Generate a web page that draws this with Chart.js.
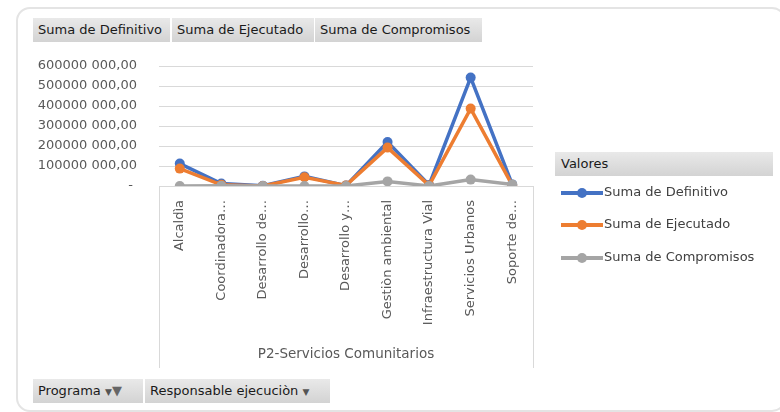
<!DOCTYPE html>
<html>
<head>
<meta charset="utf-8">
<script src="https://cdn.jsdelivr.net/npm/chart.js@4/dist/chart.umd.min.js"></script>
<style>
  html, body { margin: 0; padding: 0; background: #fff; }
  body { width: 780px; height: 412px; position: relative; overflow: hidden; font-family: "DejaVu Sans", sans-serif; }
  #panel { position: absolute; left: 16px; top: 7px; width: 766px; height: 401px; border: 2px solid #e4e4e4; border-radius: 14px; }
  #chart { position: absolute; left: 0; top: 0; }
  .btn { position: absolute; height: 24px; line-height: 24px; font-size: 13px; color: #1a1a1a; padding-left: 5px; box-sizing: border-box;
         background: linear-gradient(#e9e9e9, #d3d3d3); white-space: nowrap; }
  .legend-head { position: absolute; left: 555px; top: 152px; width: 218px; height: 24px; line-height: 24px; font-size: 13px; color: #1a1a1a;
                 padding-left: 6px; box-sizing: border-box; background: linear-gradient(#e9e9e9, #d3d3d3); }
  .legend-item { position: absolute; left: 561px; height: 20px; font-size: 13px; color: #404040; white-space: nowrap; }
  .legend-item .sw { position: absolute; left: 0; top: 8px; width: 42px; height: 4px; }
  .legend-item .dot { position: absolute; left: 16px; top: 5px; width: 10px; height: 10px; border-radius: 50%; }
  .legend-item .tx { position: absolute; left: 43px; top: 0; line-height: 18px; }
  .arrow { font-size: 9px; color: #555; }
</style>
</head>
<body>
<div id="panel"></div>
<canvas id="chart" width="780" height="412"></canvas>
<div id="fields"></div>
<div class="legend-head">Valores</div>
<div id="legend"></div>
<div class="btn" style="left:33px; top:379px; width:110px;">Programa <span class="arrow">▼</span><span style="color:#666;">▼</span></div>
<div class="btn" style="left:145px; top:379px; width:185px;">Responsable ejecuciòn <span class="arrow">▼</span></div>
<script>
const categories = ['Alcaldìa', 'Coordinadora…', 'Desarrollo de…', 'Desarrollo…', 'Desarrollo y…',
  'Gestiòn ambiental', 'Infraestructura Vial', 'Servicios Urbanos', 'Soporte de…'];
const seriesNames = ['Suma de Definitivo', 'Suma de Ejecutado', 'Suma de Compromisos'];
const definitivo = [112000000, 12000000, 1000000, 48000000, 2000000, 220000000, 5000000, 542000000, 8000000];
const ejecutado = [87000000, 6000000, 0, 44000000, 3000000, 192000000, 3000000, 387000000, 4000000];
const compromisos = [0, 1000000, 0, 0, 0, 23000000, 0, 32000000, 8000000];
const colors = ['#4472C4', '#ED7D31', '#A5A5A5'];
const axisTitle = 'P2-Servicios Comunitarios';

// field buttons on top
const fieldPos = [[33, 137], [172, 142], [315, 167]];
seriesNames.forEach((n, i) => {
  const d = document.createElement('div');
  d.className = 'btn';
  d.style.left = fieldPos[i][0] + 'px';
  d.style.top = '18px';
  d.style.width = fieldPos[i][1] + 'px';
  d.textContent = n;
  document.getElementById('fields').appendChild(d);
});

// legend
const legendTops = [183, 215, 248];
seriesNames.forEach((n, i) => {
  const d = document.createElement('div');
  d.className = 'legend-item';
  d.style.top = legendTops[i] + 'px';
  d.innerHTML = `<div class="sw" style="background:${colors[i]}"></div><div class="dot" style="background:${colors[i]}"></div><div class="tx">${n}</div>`;
  document.getElementById('legend').appendChild(d);
});

const fmt = v => {
  if (v === 0) return '- ';
  const s = String(v);
  return s.slice(0, -3) + ' ' + s.slice(-3) + ',00';
};

const boxLines = {
  id: 'boxLines',
  afterDraw(chart) {
    const { ctx, chartArea } = chart;
    ctx.save();
    ctx.strokeStyle = '#d9d9d9';
    ctx.lineWidth = 1;
    ctx.beginPath();
    [chartArea.left, chartArea.right].forEach(x => {
      ctx.moveTo(Math.round(x) + 0.5, chartArea.bottom);
      ctx.lineTo(Math.round(x) + 0.5, 368);
    });
    ctx.stroke();
    ctx.restore();
  }
};

const mk = (i, data, order) => ({
  label: seriesNames[i],
  data: data,
  borderColor: colors[i],
  backgroundColor: colors[i],
  borderWidth: 3.5,
  pointRadius: 5,
  pointHoverRadius: 5,
  pointBorderWidth: 0,
  tension: 0,
  order: order
});

new Chart(document.getElementById('chart'), {
  type: 'line',
  data: {
    labels: categories,
    datasets: [mk(0, definitivo, 3), mk(1, ejecutado, 2), mk(2, compromisos, 1)]
  },
  options: {
    responsive: false,
    animation: false,
    layout: { padding: { left: 0, right: 247, top: 66, bottom: 0 } },
    plugins: { legend: { display: false }, tooltip: { enabled: false } },
    scales: {
      x: {
        offset: true,
        grid: { display: false },
        border: { display: false },
        ticks: {
          minRotation: 90, maxRotation: 90, autoSkip: false, padding: 6,
          color: '#595959', font: { family: 'DejaVu Sans', size: 13 }
        },
        title: {
          display: true, text: axisTitle, color: '#595959',
          font: { family: 'DejaVu Sans', size: 13.5 }, padding: { top: 0, bottom: 49 }
        },
        afterFit(scale) { scale.height = 226; }
      },
      y: {
        min: 0, max: 600000000,
        ticks: {
          stepSize: 100000000, padding: 22, color: '#595959',
          font: { family: 'DejaVu Sans', size: 13 },
          callback: v => fmt(v)
        },
        grid: { color: '#d9d9d9', drawTicks: false },
        border: { display: false },
        afterFit(scale) { scale.width = 159; }
      }
    }
  },
  plugins: [boxLines]
});
</script>
</body>
</html>
